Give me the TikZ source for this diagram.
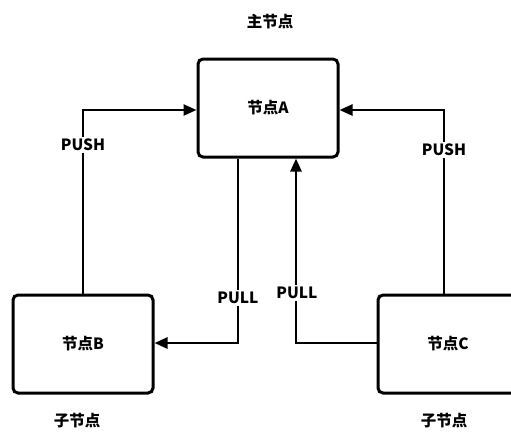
\documentclass[tikz,border=0pt]{standalone}
\usepackage{fontspec}
\setmainfont{Noto Sans CJK SC}
\usetikzlibrary{arrows.meta}
\begin{document}
\begin{tikzpicture}[x=1pt,y=-1pt,
  box/.style={draw,line width=3pt,rounded corners=5pt,fill=white,minimum width=140pt,minimum height=98pt,font=\fontsize{15.5}{18}\selectfont\bfseries},
  lbl/.style={fill=white,inner sep=2pt,font=\fontsize{15.5}{18}\selectfont\bfseries},
  conn/.style={line width=2.5pt,-{Triangle[length=13pt,width=11pt]}}]
\useasboundingbox (0,0) rectangle (511,432);
\clip (0,0) rectangle (511,432);
\node[box] (A) at (268,108) {节点A};
\node[box] (B) at (83,344) {节点B};
\node[box] (C) at (448,344) {节点C};
\node[lbl] (tA) at (270,22) {主节点};
\node[lbl] (tB) at (77,421) {子节点};
\node[lbl] (tC) at (444,421) {子节点};
\coordinate (p1) at (83,110);
\coordinate (p2) at (444,110);
\coordinate (p3) at (238,343);
\coordinate (p4) at (296,343);
\draw[conn] (B.north -| p1) -- (p1) -- (A.west |- p1);
\draw[conn] (C.north -| p2) -- (p2) -- (A.east |- p2);
\draw[conn] (A.south -| p3) -- (p3) -- (B.east |- p3);
\draw[conn] (C.west |- p4) -- (p4) -- (A.south -| p4);
\node[lbl] (l1) at (83,145) {PUSH};
\node[lbl] (l2) at (444,150) {PUSH};
\node[lbl] (l3) at (238,298) {PULL};
\node[lbl] (l4) at (297,293) {PULL};
\end{tikzpicture}
\end{document}
